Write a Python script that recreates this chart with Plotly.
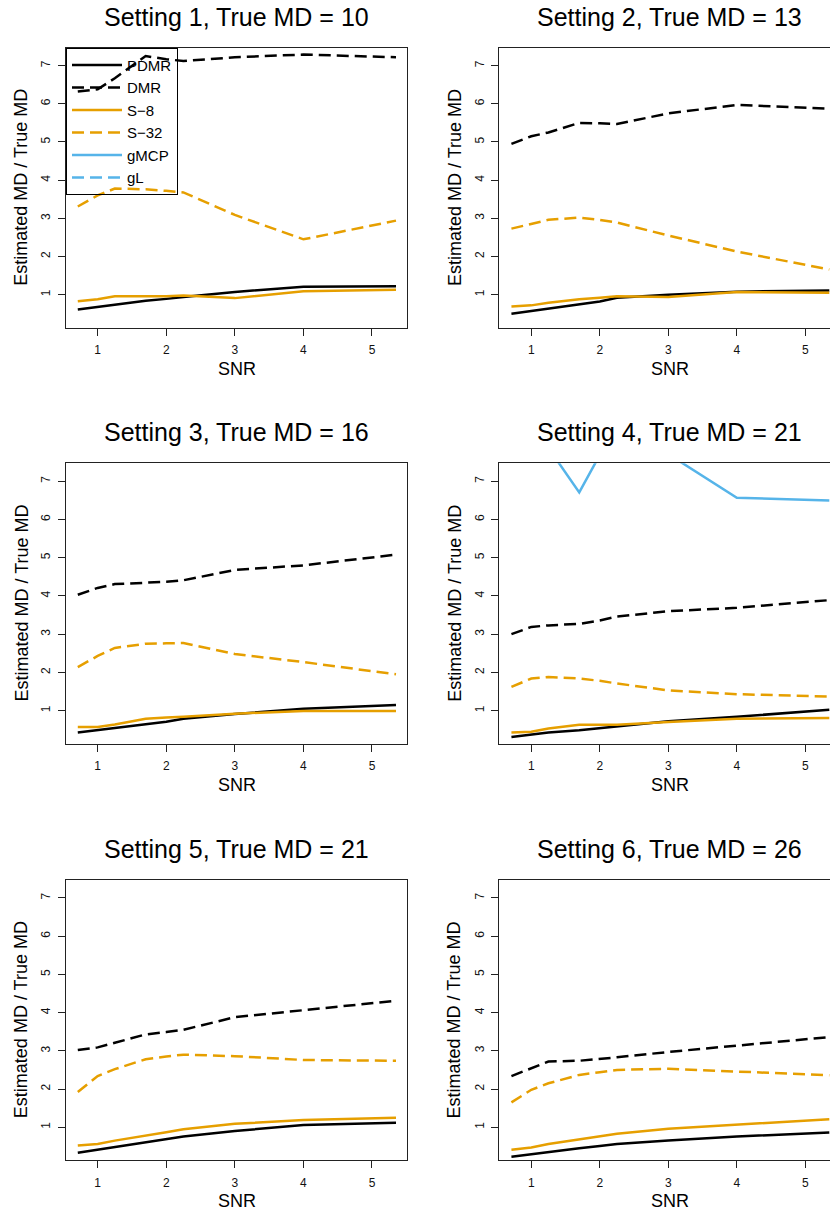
import plotly.graph_objects as go

# ---------------- data ----------------
snr = [0.71, 1.0, 1.25, 1.7, 2.0, 2.25, 3.0, 4.0, 5.35]
methods = ["PDMR", "DMR", "S\u22128", "S\u221232", "gMCP", "gL"]
true_md = [10, 13, 16, 21, 21, 26]

s1_pdmr = [0.61, 0.68, 0.75, 0.84, 0.89, 0.94, 1.07, 1.21, 1.22]
s1_dmr = [6.32, 6.38, 6.67, 7.25, 7.17, 7.12, 7.22, 7.29, 7.22]
s1_s8 = [0.83, 0.88, 0.96, 0.96, 0.96, 0.98, 0.91, 1.09, 1.13]
s1_s32 = [3.31, 3.60, 3.78, 3.76, 3.72, 3.68, 3.09, 2.45, 2.94]

s2_pdmr = [0.50, 0.57, 0.64, 0.75, 0.82, 0.92, 1.00, 1.08, 1.11]
s2_dmr = [4.95, 5.15, 5.25, 5.50, 5.49, 5.47, 5.75, 5.97, 5.87]
s2_s8 = [0.69, 0.72, 0.79, 0.88, 0.92, 0.96, 0.94, 1.07, 1.05]
s2_s32 = [2.73, 2.85, 2.96, 3.02, 2.96, 2.89, 2.55, 2.13, 1.66]

s3_pdmr = [0.43, 0.49, 0.55, 0.64, 0.71, 0.79, 0.91, 1.05, 1.15]
s3_dmr = [4.03, 4.21, 4.31, 4.34, 4.37, 4.41, 4.68, 4.80, 5.08]
s3_s8 = [0.57, 0.57, 0.64, 0.79, 0.82, 0.84, 0.92, 0.99, 0.99]
s3_s32 = [2.14, 2.43, 2.64, 2.75, 2.76, 2.77, 2.48, 2.27, 1.95]

s4_pdmr = [0.31, 0.38, 0.43, 0.49, 0.54, 0.60, 0.72, 0.84, 1.02]
s4_dmr = [3.00, 3.19, 3.23, 3.27, 3.36, 3.46, 3.60, 3.69, 3.89]
s4_s8 = [0.43, 0.45, 0.53, 0.63, 0.63, 0.63, 0.70, 0.79, 0.81]
s4_s32 = [1.62, 1.84, 1.88, 1.84, 1.78, 1.71, 1.53, 1.43, 1.37]
s4_gmcp = [8.40, 8.20, 7.87, 6.71, 7.69, 7.90, 7.71, 6.57, 6.50]

s5_pdmr = [0.33, 0.41, 0.48, 0.62, 0.69, 0.76, 0.90, 1.06, 1.12]
s5_dmr = [3.02, 3.09, 3.21, 3.43, 3.49, 3.55, 3.88, 4.06, 4.31]
s5_s8 = [0.52, 0.56, 0.65, 0.77, 0.87, 0.95, 1.09, 1.19, 1.25]
s5_s32 = [1.92, 2.34, 2.52, 2.78, 2.85, 2.90, 2.86, 2.76, 2.74]

s6_pdmr = [0.23, 0.30, 0.35, 0.45, 0.51, 0.56, 0.65, 0.76, 0.86]
s6_dmr = [2.34, 2.54, 2.72, 2.74, 2.78, 2.83, 2.97, 3.14, 3.36]
s6_s8 = [0.41, 0.47, 0.56, 0.69, 0.76, 0.83, 0.96, 1.07, 1.21]
s6_s32 = [1.65, 1.98, 2.15, 2.37, 2.44, 2.50, 2.53, 2.45, 2.36]

x_ticks = [1, 2, 3, 4, 5]
y_ticks = [1, 2, 3, 4, 5, 6, 7]

settings = [
    {"PDMR": s1_pdmr, "DMR": s1_dmr, "S\u22128": s1_s8, "S\u221232": s1_s32},
    {"PDMR": s2_pdmr, "DMR": s2_dmr, "S\u22128": s2_s8, "S\u221232": s2_s32},
    {"PDMR": s3_pdmr, "DMR": s3_dmr, "S\u22128": s3_s8, "S\u221232": s3_s32},
    {"PDMR": s4_pdmr, "DMR": s4_dmr, "S\u22128": s4_s8, "S\u221232": s4_s32, "gMCP": s4_gmcp},
    {"PDMR": s5_pdmr, "DMR": s5_dmr, "S\u22128": s5_s8, "S\u221232": s5_s32},
    {"PDMR": s6_pdmr, "DMR": s6_dmr, "S\u22128": s6_s8, "S\u221232": s6_s32},
]

# ---------------- styling ----------------
BLACK = "#000000"
ORANGE = "#E69F00"
BLUE = "#56B4E9"
DASH = "12px,6px"
style = {
    "PDMR": (BLACK, "solid"),
    "DMR": (BLACK, DASH),
    "S\u22128": (ORANGE, "solid"),
    "S\u221232": (ORANGE, DASH),
    "gMCP": (BLUE, "solid"),
    "gL": (BLUE, DASH),
}
FONT = "Liberation Sans, Arial, Helvetica, sans-serif"

W, H = 830, 1215

col_px = [(66.0, 407.3), (499.3, 840.6)]
row_px = [(47.7, 327.7), (463.3, 743.7), (880.0, 1160.3)]
x_ranges = [[0.538, 5.515], [0.533, 5.36]]
y_range = [0.135, 7.47]

fig = go.Figure()
annotations = []
legend_done = set()

for i, data in enumerate(settings):
    r, c = divmod(i, 2)
    sfx = "" if i == 0 else str(i + 1)
    xa, ya = "x" + sfx, "y" + sfx
    x0p, x1p = col_px[c]
    y0p, y1p = row_px[r]
    xdom = [x0p / W, min(x1p / W, 1.0)]
    ydom = [1 - y1p / H, 1 - y0p / H]

    for m in methods:
        if m not in data:
            continue
        color, dash = style[m]
        show = m not in legend_done
        legend_done.add(m)
        fig.add_trace(go.Scatter(
            x=snr, y=data[m], mode="lines", name=m,
            line=dict(color=color, width=2.5, dash=dash),
            xaxis=xa, yaxis=ya, showlegend=show,
            legendrank=methods.index(m) + 1, hoverinfo="skip",
        ))

    axis_common = dict(
        showgrid=False, zeroline=False, showline=True, linecolor="#222222",
        linewidth=1, ticks="outside", ticklen=7, tickwidth=1, tickcolor="#222222",
        tickfont=dict(family=FONT, size=12, color="#111111"),
    )
    fig.layout["xaxis" + sfx] = dict(
        domain=xdom, range=x_ranges[c], tickvals=x_ticks, anchor=ya,
        mirror=True, ticklabelstandoff=4, **axis_common)
    fig.layout["yaxis" + sfx] = dict(
        domain=ydom, range=y_range, tickvals=y_ticks, anchor=xa, tickangle=-90,
        mirror=(c == 0), ticklabelstandoff=3, **axis_common)

    cx = (x0p + x1p) / 2 / W
    annotations.append(dict(
        text=f"Setting {i + 1}, True MD = {true_md[i]}", x=cx, y=1 - (y0p - 31) / H,
        xref="paper", yref="paper", showarrow=False, xanchor="center", yanchor="middle",
        font=dict(family=FONT, size=25, color="black")))
    annotations.append(dict(
        text="SNR", x=cx, y=1 - (y1p + 41) / H, xref="paper", yref="paper",
        showarrow=False, xanchor="center", yanchor="middle",
        font=dict(family=FONT, size=18, color="black")))
    annotations.append(dict(
        text="Estimated MD / True MD", x=(x0p - 45) / W, y=1 - (y0p + y1p) / 2 / H,
        xref="paper", yref="paper", showarrow=False, xanchor="center", yanchor="middle",
        textangle=-90, font=dict(family=FONT, size=18, color="black")))

# gL: listed in the legend; its values lie above the plotted range
fig.add_trace(go.Scatter(
    x=[None], y=[None], mode="lines", name="gL",
    line=dict(color=BLUE, width=2.5, dash=DASH), xaxis="x", yaxis="y",
    showlegend=True, legendrank=6))

fig.update_layout(
    width=W, height=H, margin=dict(l=0, r=0, t=0, b=0),
    paper_bgcolor="white", plot_bgcolor="white",
    annotations=annotations,
    legend=dict(
        x=66.0 / W, y=1 - 47.7 / H, xanchor="left", yanchor="top",
        bgcolor="rgba(0,0,0,0)", bordercolor="black", borderwidth=1,
        font=dict(family=FONT, size=15, color="black"),
        itemwidth=50, traceorder="normal",
    ),
    font=dict(family=FONT),
)

# remove the browser's default 8px page margin so the figure sits at the window corner
fig.write_html("out.html", config={"displayModeBar": False},
               post_script="document.body.style.margin='0';")
